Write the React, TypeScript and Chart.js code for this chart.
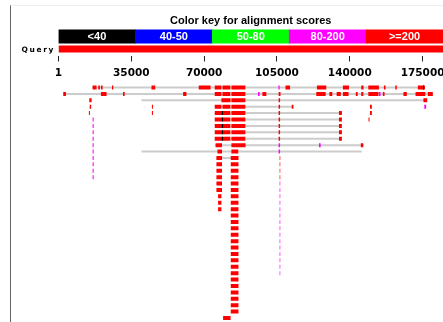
import { useEffect, useRef } from 'react';
import { Chart, registerables } from 'chart.js';
Chart.register(...registerables);

// ---- data ----
const QUERY_LENGTH = 184800;
const axisTicks = [1, 35000, 70000, 105000, 140000, 175000];
const keyLabels = ['<40', '40-50', '50-80', '80-200', '>=200'];
const keyColors = ['#000000', '#0000ff', '#00ff00', '#ff00ff', '#ff0000'];
const topRows = ['key', 'Query'];
const topRowLabels = ['', 'Query'];
const hitRowCount = 37;

type Seg = [number, number, number]; // row, start, end

const connectors: Seg[] = [
  [1, 16100, 176100], [2, 2200, 179900], [3, 39900, 177200], [4, 75100, 112900],
  [5, 75100, 136200], [6, 75100, 136200], [7, 75100, 136200], [8, 75100, 136200],
  [9, 75100, 136200], [10, 75100, 146500], [11, 39900, 145700], [12, 75900, 86500],
];

const redHsps: Seg[] = [
  [1, 16400, 18300], [1, 19100, 19900], [1, 20400, 21200], [1, 25700, 26300], [1, 44700, 46500],
  [1, 67400, 73100], [1, 75100, 78300], [1, 78800, 82600], [1, 83100, 89800], [1, 109100, 111300],
  [1, 124200, 128700], [1, 136700, 139600], [1, 145500, 146600], [1, 148900, 154000],
  [1, 156400, 157200], [1, 161900, 162600], [1, 172700, 176100],
  [2, 2300, 3600], [2, 20400, 23100], [2, 31000, 31800], [2, 59900, 61500], [2, 75100, 78300],
  [2, 78800, 82600], [2, 83100, 89800], [2, 98000, 99900], [2, 105800, 106700], [2, 123900, 128400],
  [2, 130200, 131600], [2, 133700, 135700], [2, 136700, 139400], [2, 142900, 143800],
  [2, 145500, 146500], [2, 148900, 153800], [2, 155900, 156700], [2, 165800, 167400],
  [2, 171600, 176300], [2, 177500, 179900],
  [3, 14800, 15900], [3, 78300, 82700], [3, 83100, 89800], [3, 105800, 106500], [3, 175400, 177200],
  [4, 15000, 15700], [4, 44900, 45400], [4, 75100, 78300], [4, 78800, 82600], [4, 83100, 89800],
  [4, 105800, 106500], [4, 112100, 112900], [4, 149700, 150600],
  [5, 14600, 15100], [5, 44900, 45400], [5, 75100, 78300], [5, 78800, 82600], [5, 83100, 89800],
  [5, 105800, 106500], [5, 134800, 136200], [5, 149700, 150600],
  [6, 75100, 78300], [6, 78800, 82600], [6, 83100, 89800], [6, 105800, 106500], [6, 134800, 136200],
  [6, 149000, 149500],
  [7, 75100, 78300], [7, 78800, 82600], [7, 83100, 89800], [7, 105800, 106500], [7, 134800, 136200],
  [8, 75100, 78300], [8, 78800, 82600], [8, 83100, 89800], [8, 105800, 106500], [8, 134800, 136200],
  [9, 75100, 78300], [9, 78800, 82600], [9, 83100, 89800], [9, 105800, 106500], [9, 134800, 136200],
  [10, 75500, 78600], [10, 83100, 89900], [10, 145300, 146500],
  [11, 76400, 78600], [11, 83100, 86400],
  [12, 75900, 78600], [12, 82800, 86500], [13, 75900, 78600], [13, 82800, 86500],
  [14, 75900, 78600], [14, 82800, 86500], [15, 75900, 78600], [15, 82800, 86500],
  [16, 75900, 78600], [16, 82800, 86500], [17, 75900, 78600], [17, 82800, 86500],
  [18, 76700, 78300], [18, 82800, 86500], [19, 76700, 78300], [19, 82800, 86500],
  [20, 76700, 78300], [20, 82800, 86500],
  [21, 82800, 86500], [22, 82800, 86500], [23, 82800, 86500], [24, 82800, 86500],
  [25, 82800, 86500], [26, 82800, 86500], [27, 82800, 86500], [28, 82800, 86500],
  [29, 82800, 86500], [30, 82800, 86500], [31, 82800, 86500], [32, 82800, 86500],
  [33, 82800, 86500], [34, 82800, 86500], [35, 82800, 86500], [36, 82800, 86500],
  [37, 79100, 82700],
];

const magentaHsps: Seg[] = [
  [1, 105700, 106300], [2, 95900, 96700], [2, 154000, 154800], [4, 175800, 176700],
  [6, 16400, 16900], [7, 16400, 16900], [8, 16400, 16900], [9, 16400, 16900],
  [10, 16400, 16900], [10, 105800, 106500], [10, 125200, 126000],
  [11, 16400, 16900], [11, 105800, 106500],
  [12, 16400, 16900], [13, 16400, 16900], [14, 16400, 16900], [15, 16400, 16900],
];

const paleRedHsps: Seg[] = [
  [12, 106000, 106800], [13, 106000, 106800], [14, 106000, 106800], [15, 106000, 106800],
];

const paleMagentaHsps: Seg[] = [
  [16, 106000, 106800], [17, 106000, 106800], [18, 106000, 106800], [19, 106000, 106800],
  [20, 106000, 106800], [21, 106000, 106800], [22, 106000, 106800], [23, 106000, 106800],
  [24, 106000, 106800], [25, 106000, 106800], [26, 106000, 106800], [27, 106000, 106800],
  [28, 106000, 106800], [29, 106000, 106800], [30, 106000, 106800],
];

const blackHsps: Seg[] = [
  [1, 175200, 175700], [5, 78300, 79100], [6, 78300, 79100], [7, 78300, 79100],
  [8, 78300, 79100], [9, 78300, 79100],
];

const hitRows = Array.from({ length: hitRowCount }, (_, i) => String(i + 1));
const toData = (segs: Seg[]) => segs.map(([r, s, e]) => ({ y: String(r), x: [s, e] }));

const keyLabelPlugin = {
  id: 'keyLabels',
  afterDatasetsDraw(chart: any) {
    const meta = chart.getDatasetMeta(0);
    const ctx = chart.ctx;
    ctx.save();
    ctx.font = 'bold 11px "Liberation Sans", Arial, sans-serif';
    ctx.fillStyle = '#ffffff';
    ctx.textAlign = 'center';
    ctx.textBaseline = 'middle';
    meta.data.forEach((el: any, i: number) => {
      const p = el.getProps(['x', 'y', 'base'], true);
      ctx.fillText(keyLabels[i], (p.x + p.base) / 2, p.y + 0.5);
    });
    ctx.restore();
  },
};

const rowLabelPlugin = {
  id: 'rowLabels',
  afterDraw(chart: any) {
    const y = chart.scales.y;
    const ctx = chart.ctx;
    ctx.save();
    ctx.font = 'bold 7.5px "DejaVu Sans", sans-serif';
    ctx.letterSpacing = '1.6px';
    ctx.fillStyle = '#000000';
    ctx.textAlign = 'right';
    ctx.textBaseline = 'middle';
    topRowLabels.forEach((lab, i) => {
      if (lab) ctx.fillText(lab, chart.chartArea.left - 3.5, y.getPixelForValue(i) + 1.5);
    });
    ctx.restore();
  },
};

export default function App() {
  const topRef = useRef<HTMLCanvasElement>(null);
  const hitRef = useRef<HTMLCanvasElement>(null);

  useEffect(() => {
    const top = new Chart(topRef.current!, {
      type: 'bar',
      data: {
        labels: topRows,
        datasets: [
          {
            label: 'key',
            xAxisID: 'xk',
            data: keyLabels.map((_, i) => ({ y: 'key', x: [i, i + 1] })) as any,
            backgroundColor: keyColors,
            barThickness: 14.3,
            grouped: true,
          },
          {
            label: 'Query',
            xAxisID: 'x',
            data: [{ y: 'Query', x: [1, QUERY_LENGTH] }] as any,
            backgroundColor: '#ff0000',
            maxBarThickness: 7,
            grouped: false,
          },
        ],
      },
      options: {
        indexAxis: 'y',
        animation: false,
        responsive: false,
        maintainAspectRatio: false,
        layout: { padding: { left: 58.5, right: 0, top: 0, bottom: 0 } },
        plugins: {
          legend: { display: false },
          tooltip: { enabled: false },
          title: {
            display: true,
            text: 'Color key for alignment scores',
            fullSize: false,
            color: '#000000',
            font: { family: '"Liberation Sans", Arial, sans-serif', size: 11, weight: 'bold' },
            padding: { top: 14.3, bottom: 2 },
          },
        },
        scales: {
          x: {
            type: 'linear',
            position: 'bottom',
            min: 1,
            max: QUERY_LENGTH,
            afterBuildTicks: (s: any) => {
              s.ticks = axisTicks.map((v) => ({ value: v }));
            },
            afterFit: (s: any) => {
              s.height = 24.5;
              s.paddingLeft = 0;
              s.paddingRight = 0;
            },
            ticks: {
              autoSkip: false,
              maxRotation: 0,
              padding: 5.7,
              color: '#000000',
              font: { family: '"DejaVu Sans", sans-serif', size: 10.5, weight: 'bold' },
              callback: (v: any) => String(v),
            },
            grid: { drawOnChartArea: false, tickLength: 6, color: '#222222' },
            border: { display: false },
          },
          xk: { type: 'linear', min: 0, max: 5, display: false },
          y: { type: 'category', display: false },
        },
      },
      plugins: [keyLabelPlugin, rowLabelPlugin],
    });

    const bar = (data: Seg[], color: string, t: number) => ({
      data: toData(data) as any,
      backgroundColor: color,
      maxBarThickness: t,
      grouped: false,
    });

    const hits = new Chart(hitRef.current!, {
      type: 'bar',
      data: {
        labels: hitRows,
        datasets: [
          bar(blackHsps, '#000000', 4),
          bar(magentaHsps, '#ff00ff', 4),
          bar(paleMagentaHsps, '#ff9cff', 4),
          bar(paleRedHsps, '#ff9c9c', 4),
          bar(redHsps, '#ff0000', 4),
          bar(connectors, '#cccccc', 2),
        ],
      },
      options: {
        indexAxis: 'y',
        animation: false,
        responsive: false,
        maintainAspectRatio: false,
        layout: { padding: { left: 58.5, right: 0, top: 4.3, bottom: 0.8 } },
        plugins: { legend: { display: false }, tooltip: { enabled: false } },
        scales: {
          x: { type: 'linear', min: 1, max: QUERY_LENGTH, display: false },
          y: { type: 'category', display: false },
        },
      },
    });

    return () => {
      top.destroy();
      hits.destroy();
    };
  }, []);

  return (
    <div style={{ position: 'fixed', left: 0, top: 0, width: 443, height: 322, background: '#ffffff', overflow: 'hidden' }}>
      <div
        style={{
          position: 'absolute',
          left: 10,
          top: 5,
          width: 433,
          height: 317,
          borderLeft: '1px solid #666666',
          borderTop: '1px solid #eeeeee',
          boxSizing: 'border-box',
        }}
      />
      <canvas ref={topRef} width={443} height={80} style={{ position: 'absolute', left: 0, top: 0, display: 'block' }} />
      <canvas ref={hitRef} width={443} height={242} style={{ position: 'absolute', left: 0, top: 80, display: 'block' }} />
    </div>
  );
}
